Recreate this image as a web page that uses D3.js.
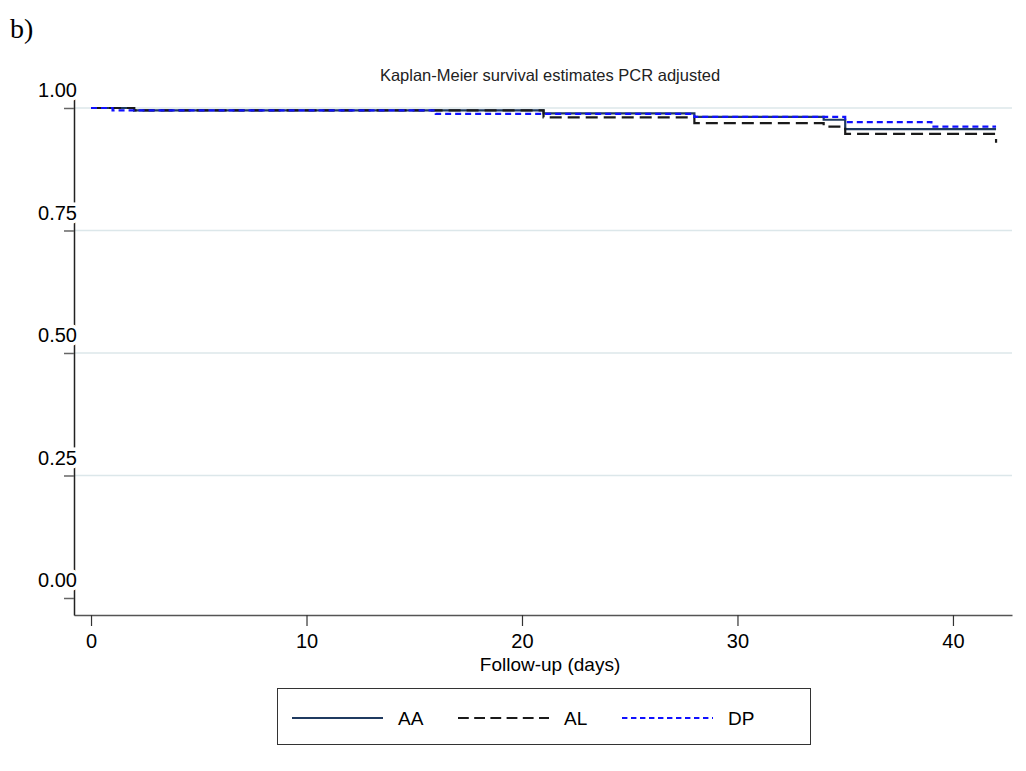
<!DOCTYPE html>
<html>
<head>
<meta charset="utf-8">
<script src="https://cdn.jsdelivr.net/npm/d3@7"></script>
<style>
  body { margin: 0; background: #fff; }
  svg { display: block; font-family: "Liberation Sans", Arial, sans-serif; }
</style>
</head>
<body>
<svg id="chart" width="1026" height="771"></svg>
<script>
// Kaplan-Meier step data (time in days, survival)
const aaTime = [0, 2, 21, 28, 34, 35, 42]
const aaSurv = [1, 0.995, 0.989, 0.982, 0.976, 0.957, 0.957]
const alTime = [0, 2, 21, 28, 34, 35, 42]
const alSurv = [1, 0.995, 0.981, 0.969, 0.962, 0.947, 0.929]
const dpTime = [0, 1, 16, 28, 35, 39, 42]
const dpSurv = [1, 0.995, 0.988, 0.982, 0.971, 0.962, 0.962]

const xTicks = [0, 10, 20, 30, 40]
const yTicks = [0, 0.25, 0.5, 0.75, 1]
const yGrid = [0.25, 0.5, 0.75, 1]
const groups = ["AA", "AL", "DP"]

const series = [
  { name: "AA", pts: aaTime.map((t, i) => [t, aaSurv[i]]), color: "#1f3a60", dash: null },
  { name: "AL", pts: alTime.map((t, i) => [t, alSurv[i]]), color: "#1a1a1a", dash: "12,6" },
  { name: "DP", pts: dpTime.map((t, i) => [t, dpSurv[i]]), color: "#1010ff", dash: "6,4" }
]

const svg = d3.select("#chart")

let x = d3.scaleLinear().domain([-0.79, 42.74]).range([74, 1012])
let y = d3.scaleLinear().domain([-0.0347, 1.0265]).range([615, 95])

// panel label
svg.append("text")
  .attr("x", 10).attr("y", 38)
  .style("font-family", "'Liberation Serif', 'Times New Roman', serif")
  .style("font-size", "28px")
  .text("b)")

// title
svg.append("text")
  .attr("x", 550).attr("y", 81)
  .attr("text-anchor", "middle")
  .style("font-size", "16.5px")
  .style("fill", "#222")
  .text("Kaplan-Meier survival estimates PCR adjusted")

// grid
svg.append("g")
  .selectAll("line")
  .data(yGrid)
  .enter().append("line")
  .attr("x1", 75).attr("x2", 1012)
  .attr("y1", d => y(d)).attr("y2", d => y(d))
  .attr("stroke", "#dce7ea")
  .attr("stroke-width", 1.5)

// x axis
let xAxis = svg.append("g")
  .attr("transform", "translate(0,615)")
  .call(d3.axisBottom(x).tickValues(xTicks).tickSize(11).tickSizeOuter(0).tickPadding(8))
xAxis.select(".domain").attr("stroke", "#555").attr("stroke-width", 1.5)
xAxis.selectAll(".tick line").attr("stroke", "#333").attr("stroke-width", 1.2)
xAxis.selectAll(".tick text")
  .style("font-size", "20px")
  .style("font-family", "'Liberation Sans', Arial, sans-serif")
  .attr("fill", "#000")

svg.append("text")
  .attr("x", 550).attr("y", 671)
  .attr("text-anchor", "middle")
  .style("font-size", "19px")
  .text("Follow-up (days)")

// y axis
let yAxis = svg.append("g")
  .attr("transform", "translate(74,0)")
  .call(d3.axisLeft(y).tickValues(yTicks).tickSize(10).tickSizeOuter(0).tickFormat(d3.format(".2f")))
yAxis.select(".domain").attr("stroke", "#222").attr("stroke-width", 1.5)
yAxis.selectAll(".tick line").attr("stroke", "#666").attr("stroke-width", 1.5)
yAxis.selectAll(".tick text")
  .attr("x", 3).attr("dy", "-0.55em")
  .attr("text-anchor", "end")
  .style("font-size", "20px")
  .style("font-family", "'Liberation Sans', Arial, sans-serif")
  .attr("fill", "#000")
  .attr("stroke", "#fff").attr("stroke-width", 7)
  .style("paint-order", "stroke")

// survival curves
let line = d3.line()
  .x(d => x(d[0]))
  .y(d => y(d[1]))
  .curve(d3.curveStepAfter)

svg.append("g")
  .selectAll("path")
  .data(series)
  .enter().append("path")
  .attr("d", d => line(d.pts))
  .attr("fill", "none")
  .attr("stroke", d => d.color)
  .attr("stroke-width", 2.2)
  .attr("stroke-dasharray", d => d.dash)

// legend
let legend = svg.append("g")
legend.append("rect")
  .attr("x", 277.5).attr("y", 688.5)
  .attr("width", 533).attr("height", 56)
  .attr("fill", "#fff").attr("stroke", "#333").attr("stroke-width", 1)

let legendX = d3.scaleOrdinal().domain(groups).range([292, 458, 622])
let item = legend.selectAll(".item")
  .data(series)
  .enter().append("g")
  .attr("class", "item")
  .attr("transform", d => `translate(${legendX(d.name)},718)`)
item.append("line")
  .attr("x1", 0).attr("x2", 91)
  .attr("stroke", d => d.color)
  .attr("stroke-width", 2)
  .attr("stroke-dasharray", d => d.dash ? d.dash.split(",").map(v => v * 0.9).join(",") : null)
item.append("text")
  .attr("x", 106).attr("y", 7)
  .style("font-size", "19px")
  .text(d => d.name)
</script>
</body>
</html>
